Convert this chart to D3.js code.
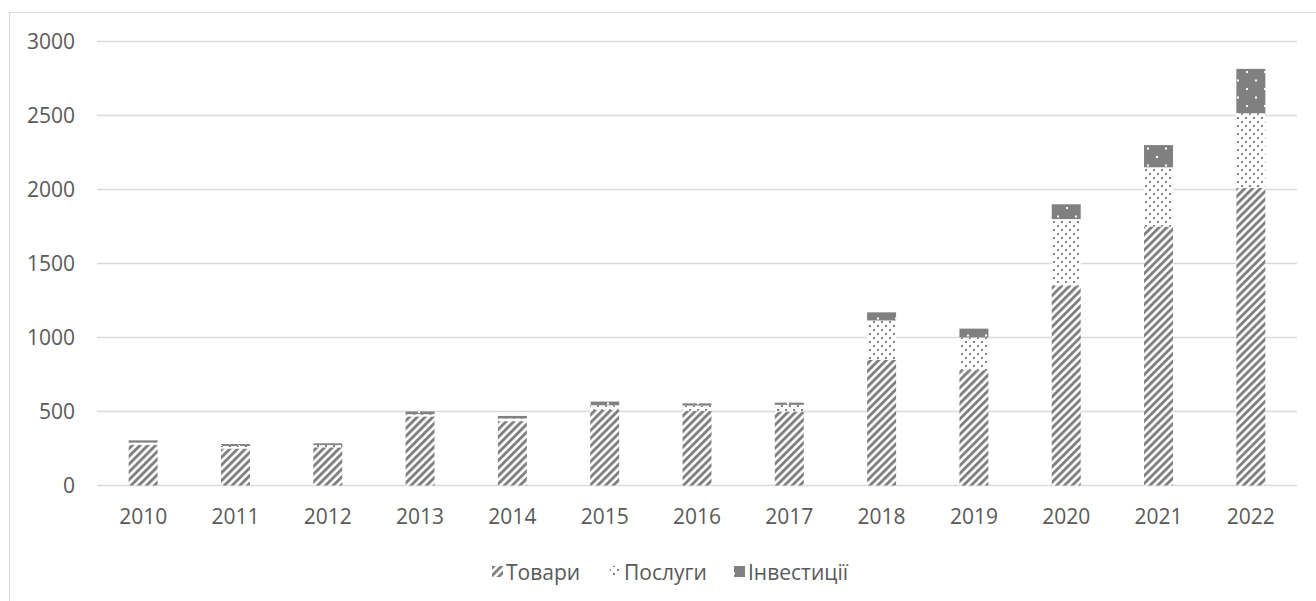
<!DOCTYPE html>
<html><head><meta charset="utf-8">
<script src="https://cdn.jsdelivr.net/npm/d3@7"></script>
<style>
html,body{margin:0;padding:0;background:#fff;}
text{font-family:"Open Sans","Noto Sans",sans-serif;fill:#595959;}
</style></head>
<body>
<svg id="c" width="1316" height="601"></svg>
<script>
const years = ["2010","2011","2012","2013","2014","2015","2016","2017","2018","2019","2020","2021","2022"];
const goods = [275, 250, 258, 467, 435, 512, 505, 500, 850, 780, 1350, 1750, 2010];
const services = [15, 17, 15, 15, 18, 30, 35, 45, 265, 220, 450, 400, 505];
const investments = [15, 13, 12, 18, 17, 25, 15, 15, 55, 60, 100, 150, 300];
const seriesNames = ["Товари", "Послуги", "Інвестиції"];
const yTicks = [0, 500, 1000, 1500, 2000, 2500, 3000];

const svg = d3.select("#c");
const defs = svg.append("defs");
const gray = "#808080";

// stripes
const p1 = defs.append("pattern").attr("id","pGoods").attr("patternUnits","userSpaceOnUse")
  .attr("width",5.5).attr("height",5.5).attr("patternTransform","rotate(45)");
p1.append("rect").attr("width",5.5).attr("height",5.5).attr("fill","#fff");
p1.append("rect").attr("width",2.9).attr("height",5.5).attr("fill",gray);
// dots
const p2 = defs.append("pattern").attr("id","pServ").attr("patternUnits","userSpaceOnUse")
  .attr("width",8).attr("height",8);
p2.append("rect").attr("width",8).attr("height",8).attr("fill","#fff");
p2.append("rect").attr("x",1).attr("y",1).attr("width",2).attr("height",2).attr("fill",gray);
p2.append("rect").attr("x",5).attr("y",5).attr("width",2).attr("height",2).attr("fill",gray);
// solid with white dots
const p3 = defs.append("pattern").attr("id","pInv").attr("patternUnits","userSpaceOnUse")
  .attr("width",18).attr("height",17);
p3.append("rect").attr("width",18).attr("height",17).attr("fill",gray);
p3.append("rect").attr("x",4).attr("y",3).attr("width",2).attr("height",2).attr("fill","#fff");
p3.append("rect").attr("x",13).attr("y",11.5).attr("width",2).attr("height",2).attr("fill","#fff");
const fills = ["url(#pGoods)","url(#pServ)","url(#pInv)"];

// chart border
svg.append("rect").attr("x",9.5).attr("y",12.5).attr("width",1400).attr("height",700)
  .attr("fill","none").attr("stroke","#d9d9d9").attr("stroke-width",1);

const x = d3.scaleBand().domain(years).range([97,1297]).paddingInner(0.686).paddingOuter(0.343);
const y = d3.scaleLinear().domain([0,3000]).range([485.5,41.5]);

// gridlines
svg.append("g").selectAll("line").data(yTicks).join("line")
  .attr("x1",97).attr("x2",1297).attr("y1",d=>y(d)).attr("y2",d=>y(d))
  .attr("stroke","#d9d9d9").attr("stroke-width",1.3);

// y labels
svg.append("g").selectAll("text").data(yTicks).join("text")
  .attr("x",75).attr("y",d=>y(d)).attr("dy","0.36em").attr("text-anchor","end")
  .attr("font-size",21).text(d=>d);

// x labels
svg.append("g").selectAll("text").data(years).join("text")
  .attr("x",d=>x(d)+x.bandwidth()/2).attr("y",524).attr("text-anchor","middle")
  .attr("font-size",21).text(d=>d);

// stacked bars
const table = years.map((yr,i)=>({year:yr, g:goods[i], s:services[i], v:investments[i]}));
const stack = d3.stack().keys(["g","s","v"])(table);
svg.append("g").selectAll("g").data(stack).join("g")
  .attr("fill",(d,i)=>fills[i])
  .selectAll("rect").data(d=>d).join("rect")
  .attr("x",d=>x(d.data.year)).attr("width",x.bandwidth())
  .attr("y",d=>y(d[1])).attr("height",d=>y(d[0])-y(d[1]));

// legend
const legX = [492, 610, 734];
const leg = svg.append("g");
seriesNames.forEach((n,i)=>{
  leg.append("rect").attr("x",legX[i]).attr("y",566).attr("width",11).attr("height",11).attr("fill",fills[i]);
  leg.append("text").attr("x",legX[i]+14).attr("y",572).attr("dy","0.36em").attr("font-size",21).text(n);
});
</script>
</body></html>
